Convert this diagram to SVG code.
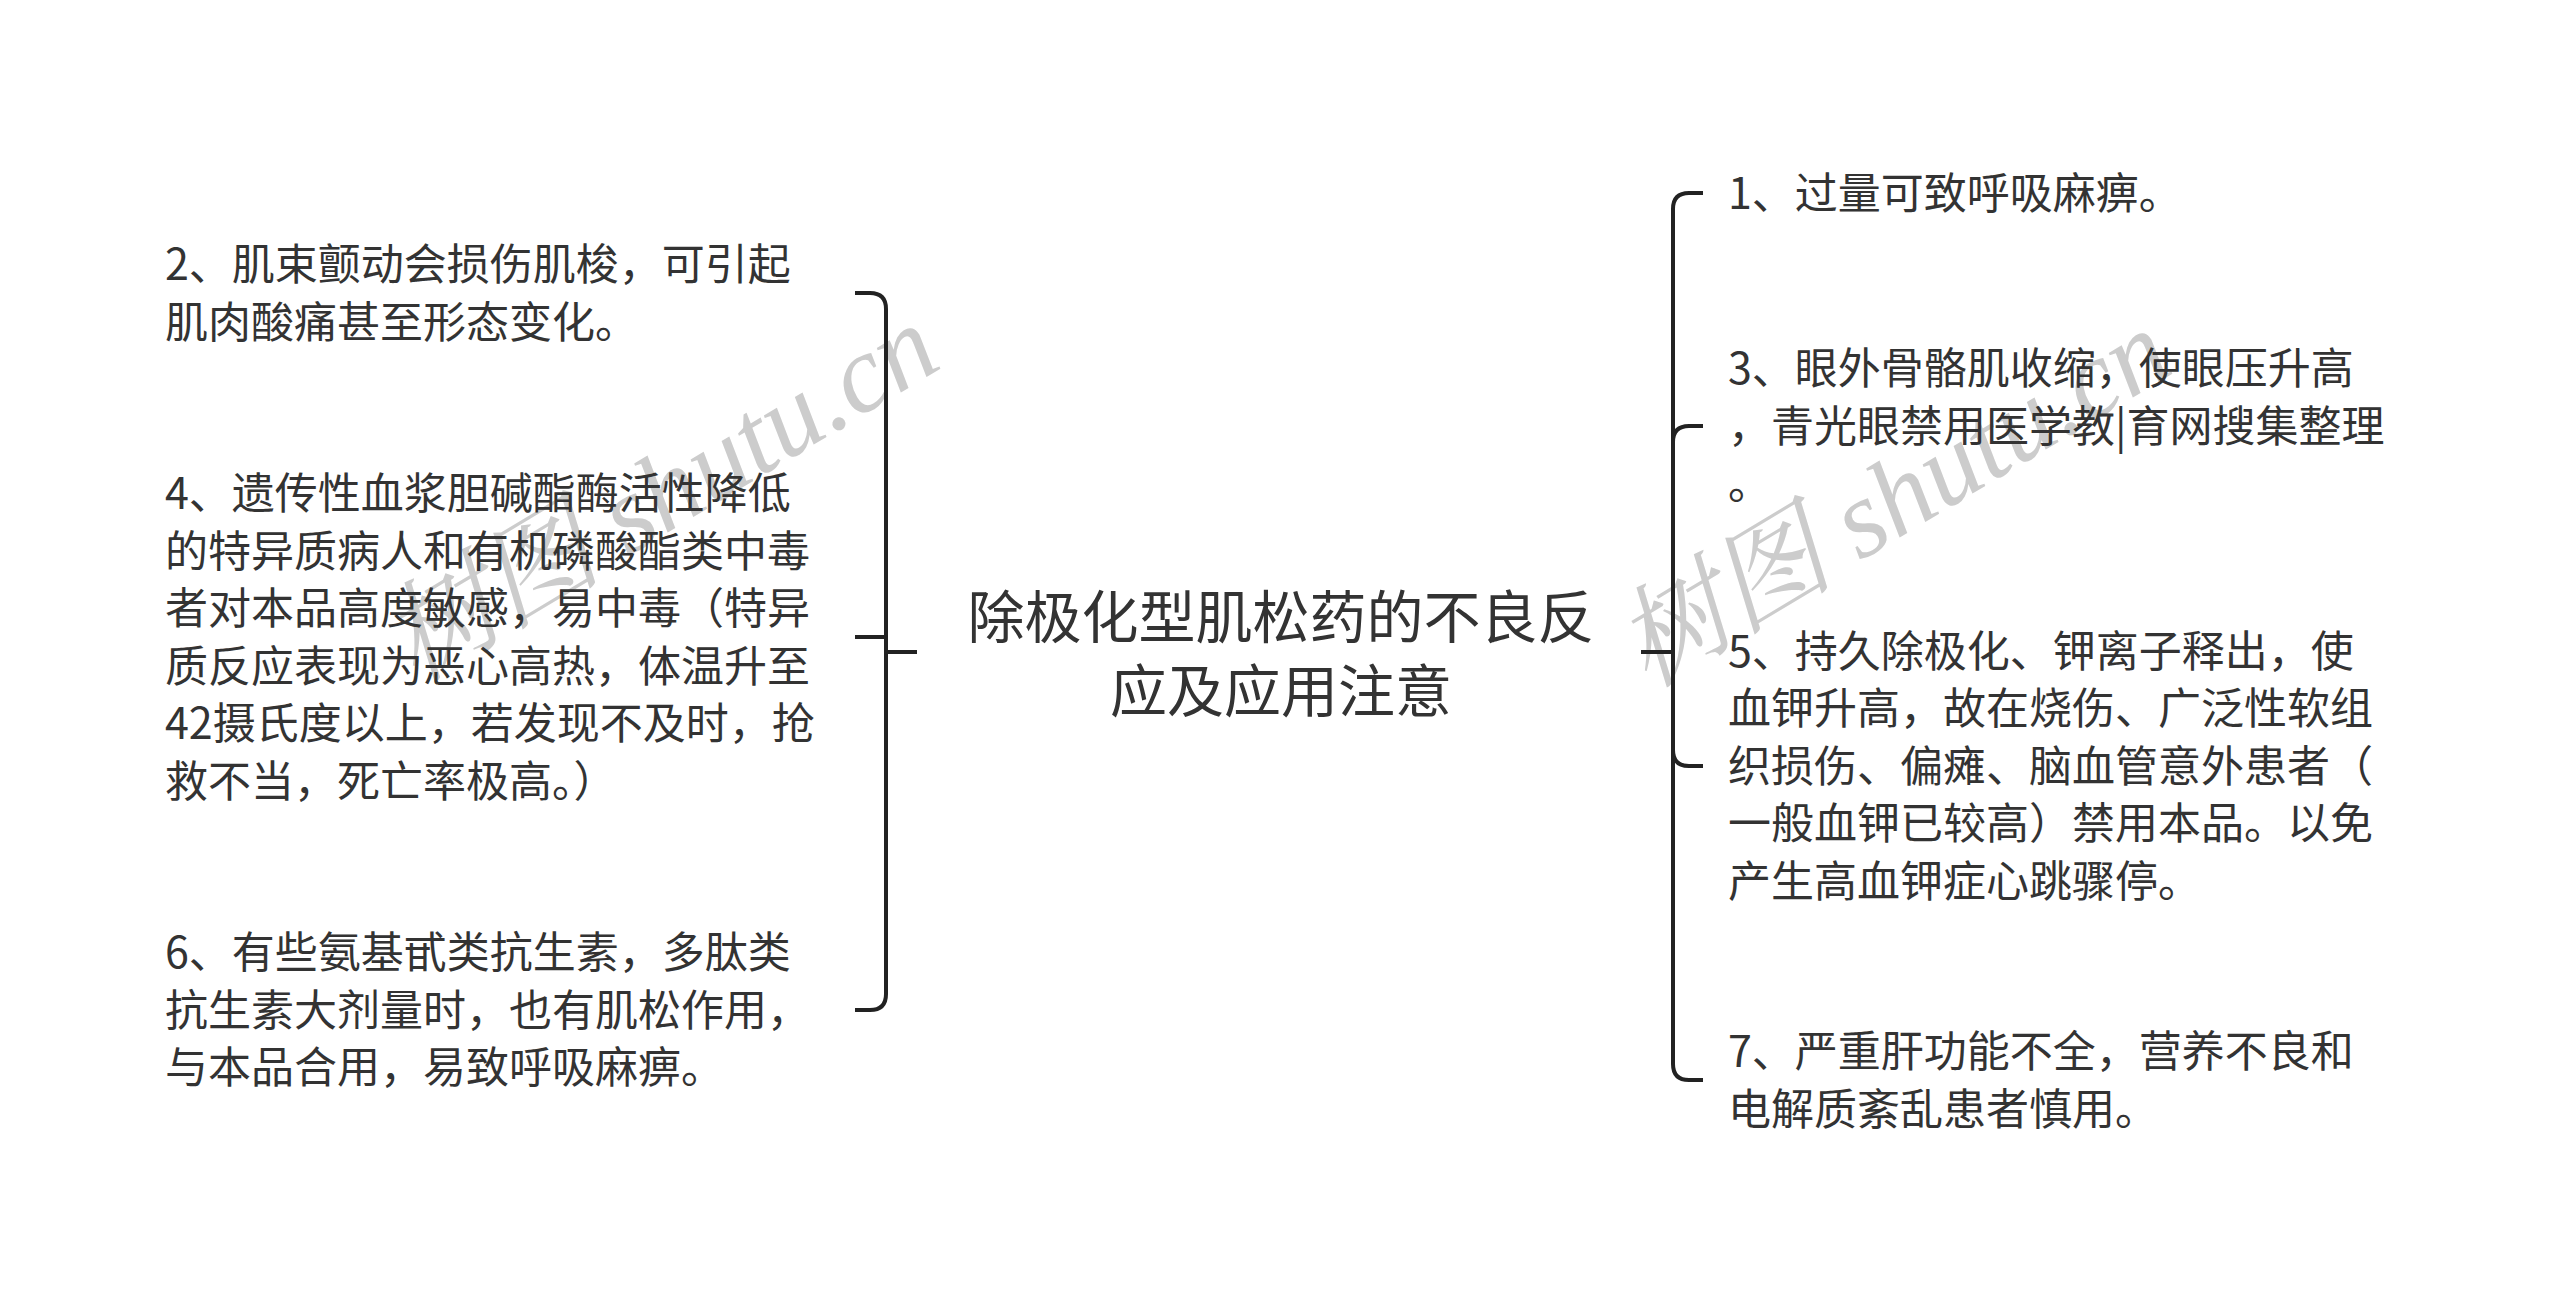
<svg xmlns="http://www.w3.org/2000/svg" width="2560" height="1304" viewBox="0 0 2560 1304">
<style>
.t{font-family:"Noto Sans CJK SC","Noto Sans",sans-serif;font-size:43px;fill:#333333}
.root{font-family:"Noto Sans CJK SC","Noto Sans",sans-serif;font-size:57px;fill:#333333;text-anchor:middle}
.c{fill:none;stroke:#222222;stroke-width:4;stroke-linecap:butt;stroke-linejoin:round}
.wm{font-family:"Liberation Serif","Noto Serif CJK SC","Noto Sans CJK SC",serif;font-style:italic;font-size:110px;fill:#cccccc;text-anchor:middle}
</style>
<rect width="2560" height="1304" fill="#ffffff"/>
<g id="watermarks">
<text class="wm" transform="translate(680,525) rotate(-31)">树图 shutu.cn</text>
<text class="wm" transform="translate(1912,530) rotate(-31)">树图 shutu.cn</text>
</g>
<g id="connectors">
<path class="c" d="M917,652 H886 V309 Q886,293 870,293 H855"/>
<path class="c" d="M917,652 H886 V637 H855"/>
<path class="c" d="M917,652 H886 V994 Q886,1010 870,1010 H855"/>
<path class="c" d="M1641,652 H1673 V209 Q1673,193 1689,193 H1703"/>
<path class="c" d="M1641,652 H1673 V442 Q1673,426 1689,426 H1703"/>
<path class="c" d="M1641,652 H1673 V750 Q1673,766 1689,766 H1703"/>
<path class="c" d="M1641,652 H1673 V1064 Q1673,1080 1689,1080 H1703"/>
</g>
<g id="root">
<text class="root" x="1281" y="638">除极化型肌松药的不良反</text>
<text class="root" x="1281" y="712">应及应用注意</text>
</g>
<g id="node2">
<text class="t" x="165" y="280">2、肌束颤动会损伤肌梭，可引起</text>
<text class="t" x="165" y="338">肌肉酸痛甚至形态变化。</text>
</g>
<g id="node4">
<text class="t" x="165" y="509">4、遗传性血浆胆碱酯酶活性降低</text>
<text class="t" x="165" y="567">的特异质病人和有机磷酸酯类中毒</text>
<text class="t" x="165" y="624">者对本品高度敏感，易中毒（特异</text>
<text class="t" x="165" y="682">质反应表现为恶心高热，体温升至</text>
<text class="t" x="165" y="739">42摄氏度以上，若发现不及时，抢</text>
<text class="t" x="165" y="797">救不当，死亡率极高。）</text>
</g>
<g id="node6">
<text class="t" x="165" y="968">6、有些氨基甙类抗生素，多肽类</text>
<text class="t" x="165" y="1026">抗生素大剂量时，也有肌松作用，</text>
<text class="t" x="165" y="1083">与本品合用，易致呼吸麻痹。</text>
</g>
<g id="node1">
<text class="t" x="1728" y="209">1、过量可致呼吸麻痹。</text>
</g>
<g id="node3">
<text class="t" x="1728" y="384">3、眼外骨骼肌收缩，使眼压升高</text>
<text class="t" x="1728" y="442">，青光眼禁用医学教|育网搜集整理</text>
<text class="t" x="1728" y="499">。</text>
</g>
<g id="node5">
<text class="t" x="1728" y="667">5、持久除极化、钾离子释出，使</text>
<text class="t" x="1728" y="724">血钾升高，故在烧伤、广泛性软组</text>
<text class="t" x="1728" y="782">织损伤、偏瘫、脑血管意外患者（</text>
<text class="t" x="1728" y="839">一般血钾已较高）禁用本品。以免</text>
<text class="t" x="1728" y="897">产生高血钾症心跳骤停。</text>
</g>
<g id="node7">
<text class="t" x="1728" y="1067">7、严重肝功能不全，营养不良和</text>
<text class="t" x="1728" y="1125">电解质紊乱患者慎用。</text>
</g>
</svg>
